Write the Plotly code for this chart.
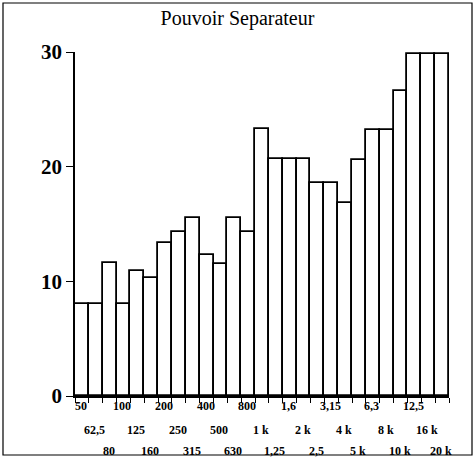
import plotly.graph_objects as go

# 1/3 octave bands, 50 Hz .. 20 kHz
bands = ["50", "62,5", "80", "100", "125", "160", "200", "250", "315",
         "400", "500", "630", "800", "1 k", "1,25", "1,6", "2 k", "2,5",
         "3,15", "4 k", "5 k", "6,3", "8 k", "10 k", "12,5", "16 k", "20 k"]
pouvoir = [8.0, 8.0, 11.6, 8.0, 10.9, 10.3, 13.3, 14.3, 15.5,
           12.3, 11.5, 15.5, 14.3, 23.3, 20.7, 20.7, 20.7, 18.6,
           18.6, 16.8, 20.6, 23.2, 23.2, 26.6, 29.8, 29.8, 29.8]
y_ticks = [0, 10, 20, 30]

idx = list(range(len(bands)))
serif = "Liberation Serif"

fig = go.Figure(go.Bar(
    x=idx, y=pouvoir,
    marker=dict(color="white", line=dict(color="black", width=1.8)),
    width=1,
))

# staggered labels, three rows under the axis
row_shift = [-10, -34, -55]
for i, lab in zip(idx, bands):
    fig.add_annotation(x=i, y=0, xref="x", yref="y", text=f"<b>{lab}</b>",
                       showarrow=False, yshift=row_shift[i % 3], xshift=-1,
                       font=dict(family=serif, size=12, color="black"))

fig.update_layout(
    width=475, height=458,
    margin=dict(l=75, r=26, t=52, b=62),
    paper_bgcolor="white", plot_bgcolor="white",
    bargap=0, showlegend=False,
    title=dict(text="Pouvoir Separateur", x=0.5, xref="container",
               y=1 - 18 / 458, yref="container", yanchor="middle",
               font=dict(family=serif, size=20, color="black")),
    xaxis=dict(range=[-0.5, len(bands) - 0.5], showticklabels=False,
               showgrid=False, zeroline=False, showline=True,
               linecolor="black", linewidth=1.5, ticks="",
               minor=dict(ticks="outside", tick0=-0.5, dtick=1, ticklen=5,
                          tickcolor="black", tickwidth=1.2, showgrid=False)),
    yaxis=dict(range=[0, 30], tickvals=y_ticks, showgrid=False,
               zeroline=False, showline=True, linecolor="black",
               linewidth=1.5, ticks="outside", ticklen=7,
               tickcolor="black", tickwidth=1.2,
               tickfont=dict(family=serif, size=21, color="black",
                             weight="bold")),
)

# outer frame around the whole figure
fig.add_shape(type="rect", xref="paper", yref="paper",
              x0=(3 - 75) / 374, x1=(472 - 75) / 374,
              y0=(396 - 455) / 344, y1=(396 - 3) / 344,
              line=dict(color="black", width=1.2))

# no page margin, so the figure sits at the window's corner
fig.write_html("out.html", config={"displayModeBar": False},
               post_script="document.body.style.margin='0';")
